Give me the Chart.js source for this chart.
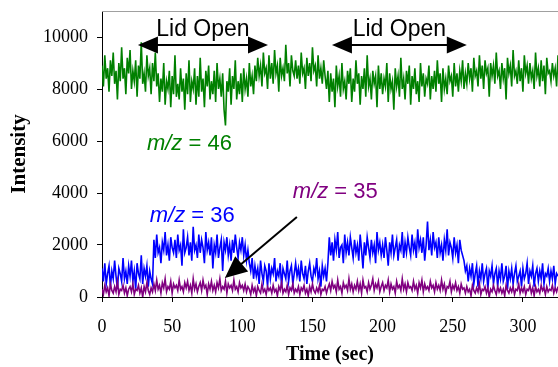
<!DOCTYPE html>
<html>
<head>
<meta charset="utf-8">
<script src="https://cdn.jsdelivr.net/npm/chart.js@4"></script>
<style>
  html, body { margin:0; padding:0; background:#fff; }
  #wrap { width:558px; height:367px; }
</style>
</head>
<body>
<div id="wrap"><canvas id="c" width="558" height="367"></canvas></div>
<script>
'use strict';

// ── readings, one per second from t = 0
const sampleStep = 1;

const m46 = [
  8900,8100,9300,8400,8800,7900,9100,8500,9400,8200,8700,7600,9000,8300,9600,8400,8800,7800,9200,8600,
  9500,8000,8700,8300,9100,7700,8900,8400,9800,8200,8600,7900,9300,8500,8800,7800,9000,8300,9400,8100,
  8600,7500,8400,7900,9000,7400,8300,8000,8700,7300,8500,7800,9300,7700,8200,7600,8800,7900,8400,7200,
  8600,7800,9100,7500,8300,8000,8800,7400,8500,7700,9200,7900,8400,7300,8700,8100,8900,7600,8300,7800,
  8700,7500,9000,8000,8400,7700,8600,7200,6600,8300,7900,8800,7400,8500,8000,9100,7600,8300,7800,8600,
  7500,8800,8000,8400,7700,9000,8100,8500,7800,8900,8300,9200,8500,8900,8100,9400,8600,8800,8000,9300,
  8400,9000,8200,9500,8600,8900,7900,9200,8500,8800,8300,9700,8600,9000,8100,9300,8700,8500,9100,8400,
  8900,8200,9400,8600,8800,8000,9200,8500,9000,8300,9600,8700,8900,8100,9300,8400,8800,8200,9100,8500,
  8000,8700,7500,8600,7900,8400,7300,8900,8100,8500,7700,9000,8000,8300,7600,8700,8200,8800,7500,8400,
  7900,9100,8200,8600,7400,8500,8000,8800,7700,9300,8100,8400,7600,8700,8200,8500,7300,8900,8000,8600,
  7800,8400,8100,9000,7500,8600,8000,8300,7200,8800,8100,8500,7700,9200,8000,8400,7600,8700,8200,8900,
  7400,8500,8000,8800,7800,8300,7500,9000,8100,8600,7700,8400,8200,8900,7600,8500,8000,8700,7900,9100,
  8200,8600,7500,8800,8000,8400,7800,8900,8300,8500,7700,9000,8100,8600,7900,8700,8300,9100,8000,8600,
  8200,9000,8400,8800,7900,9200,8500,8700,8100,9300,8400,8900,8000,9100,8600,8800,7700,9000,8500,8900,
  8200,9400,8500,8700,8000,9000,8400,8800,7600,9200,8600,8900,8100,9500,8500,8700,8200,9100,8300,8800,
  7900,9300,8600,8900,8200,9000,8400,8700,8000,9400,8500,8800,8100,9100,8300,8900,7800,9200,8600,8700,
  8300,9000,8500,8800,8100,9300
];

const m36 = [
  1100,600,1300,500,900,1200,400,1000,700,1400,800,300,1100,900,600,1500,700,1000,500,1200,
  800,1400,600,1000,300,1300,900,700,1600,500,1100,800,1200,400,1000,700,500,
  2200,1500,2400,1700,1900,1300,2100,1800,2500,1600,2000,1400,2300,1900,1700,2200,1500,2400,1800,2000,1200,2600,1700,
  1900,2300,1600,2100,1400,2700,1800,2000,1500,2400,1700,2200,1900,1300,2500,1800,2100,1600,2300,1100,
  2000,1700,2400,1500,1900,2200,1000,2100,1800,2300,1600,2000,1400,2200,1700,2400,1900,1500,2100,1800,
  2300,1600,2000,1400,1800,
  1300,1000,1500,700,1200,800,1100,500,1400,900,600,1200,1000,400,1300,
  700,1100,900,1500,600,1000,800,1300,400,1100,900,700,1400,600,1000,1200,500,900,1300,800,
  1100,600,1400,900,700,1200,500,1000,1300,800,600,1100,900,1500,700,1000,400,1200,800,1100,600,1300,
  2300,1600,2100,1400,2200,1800,2500,1500,1900,2000,1300,2400,1700,2100,1600,2300,1900,1500,
  2200,1700,2000,1400,2400,1800,1100,2100,1600,2300,1900,1500,2200,1700,2000,1300,2500,1800,2100,1600,
  2000,1500,2300,1800,1200,2100,1700,2400,1600,1900,2200,1400,2000,1800,2500,1500,2100,1700,2300,1900,
  1600,2400,1800,2100,1500,2600,1900,2200,1700,2300,1400,2000,2900,1800,2200,1600,2500,1900,2100,1500,
  2300,1700,2000,1400,2200,1800,2600,1600,2100,1900,1500,2300,1700,2000,1300,2200,1800,1600,
  1400,1000,1200,600,1100,800,1300,500,900,1200,400,1000,700,1300,600,900,1100,300,1000,800,1200,500,
  900,1100,400,1000,700,1300,600,800,1200,300,1000,700,1100,500,900,1200,600,800,1000,400,
  1100,700,900,1300,500,1000,800,1200,400,900,1100,600,1000,700,1300,500,900,800,1100,600,
  1000,700,1200,500,900,800
];

const m35 = [
  300,100,450,200,350,50,500,250,150,400,200,600,100,300,250,450,150,350,50,300,
  400,200,500,100,300,250,450,150,350,0,400,200,550,250,100,350,200,
  500,250,650,300,450,150,550,350,700,200,400,300,600,150,500,350,450,250,650,300,400,200,550,
  350,600,250,450,150,700,300,500,200,400,550,250,650,350,450,100,500,300,600,250,
  450,200,550,350,700,250,400,300,600,150,500,350,450,250,650,300,400,200,550,350,
  450,250,500,200,400,
  300,100,450,200,350,50,400,250,150,500,200,300,100,400,250,
  350,150,450,200,300,50,400,250,550,150,300,200,450,100,350,250,500,150,300,200,
  400,100,350,250,450,150,300,50,400,200,500,250,150,350,200,450,100,300,250,400,150,350,
  500,250,600,350,450,200,650,300,400,150,550,350,450,250,700,300,500,200,
  450,300,600,250,500,150,650,350,400,200,550,300,450,700,250,500,350,600,200,400,
  550,250,450,350,650,200,500,300,400,150,600,350,450,250,700,300,500,200,550,350,
  400,250,600,300,450,150,550,350,650,200,500,300,400,250,600,350,450,200,550,300,
  450,250,650,300,500,150,400,350,600,200,450,300,550,250,400,150,500,300,
  350,150,400,200,300,50,450,250,150,350,200,500,100,300,250,400,150,350,0,300,200,450,
  250,100,400,200,350,150,300,50,450,250,150,350,200,400,100,300,250,500,150,350,
  200,400,100,300,250,450,150,350,50,400,200,300,150,450,250,350,100,400,200,300,
  250,450,150,350,200,400
];

const xTicks = [0, 50, 100, 150, 200, 250, 300];
const yTicks = [0, 2000, 4000, 6000, 8000, 10000];

// annotation anchors (data units)
const lidSpans   = [[25.6, 118.3], [163.9, 260]];
const lidArrowY  = 9690;
const lidTextY   = 10020;
const mzLabels = [
  { num:'46', x:32,  y:5654, color:'#008000' },
  { num:'36', x:34,  y:2896, color:'#0000ff' },
  { num:'35', x:136, y:3808, color:'#800080' },
];
const pointer = { from:[138.9, 3077], to:[87.6, 731] };

const toPts = arr => arr.map((v, i) => ({ x: i * sampleStep, y: v }));

function head(ctx, tx, ty, fx, fy, len, half) {
  const a = Math.atan2(ty - fy, tx - fx);
  ctx.save();
  ctx.translate(tx, ty); ctx.rotate(a);
  ctx.beginPath(); ctx.moveTo(0, 0); ctx.lineTo(-len, -half); ctx.lineTo(-len, half); ctx.closePath();
  ctx.fill();
  ctx.restore();
}

const notes = {
  id: 'notes',
  afterDatasetsDraw(chart) {
    const { ctx, chartArea: ca, scales: { x, y } } = chart;
    ctx.save();
    // thin frame line on top
    ctx.strokeStyle = '#a0a0a0'; ctx.lineWidth = 1;
    ctx.beginPath(); ctx.moveTo(ca.left, ca.top + 0.5); ctx.lineTo(ca.right, ca.top + 0.5); ctx.stroke();

    ctx.fillStyle = '#000'; ctx.strokeStyle = '#000';
    lidSpans.forEach(([a, b]) => {
      const x1 = x.getPixelForValue(a), x2 = x.getPixelForValue(b), py = y.getPixelForValue(lidArrowY);
      ctx.lineWidth = 2;
      ctx.beginPath(); ctx.moveTo(x1 + 18, py); ctx.lineTo(x2 - 18, py); ctx.stroke();
      head(ctx, x1, py, x2, py, 20, 8.5);
      head(ctx, x2, py, x1, py, 20, 8.5);
      ctx.font = '23px "Liberation Sans"';
      ctx.textAlign = 'center'; ctx.textBaseline = 'alphabetic';
      ctx.fillText('Lid Open', (x1 + x2) / 2, y.getPixelForValue(lidTextY));
    });

    const fx = x.getPixelForValue(pointer.from[0]), fy = y.getPixelForValue(pointer.from[1]);
    const tx = x.getPixelForValue(pointer.to[0]),   ty = y.getPixelForValue(pointer.to[1]);
    const d = Math.hypot(tx - fx, ty - fy), k = (d - 18) / d;
    ctx.lineWidth = 2;
    ctx.beginPath(); ctx.moveTo(fx, fy); ctx.lineTo(fx + (tx - fx) * k, fy + (ty - fy) * k); ctx.stroke();
    head(ctx, tx, ty, fx, fy, 22, 10);

    mzLabels.forEach(l => {
      const px = x.getPixelForValue(l.x), py = y.getPixelForValue(l.y);
      ctx.fillStyle = l.color; ctx.textAlign = 'left'; ctx.textBaseline = 'alphabetic';
      ctx.font = 'italic 22px "Liberation Sans"';
      ctx.fillText('m/z', px, py);
      const w = ctx.measureText('m/z').width;
      ctx.font = '22px "Liberation Sans"';
      ctx.fillText(' = ' + l.num, px + w, py);
    });
    ctx.restore();
  }
};

Chart.defaults.font.family = '"Liberation Serif", "Times New Roman", serif';
Chart.defaults.color = '#000';

const line = (data, color, order) => ({
  data: toPts(data), borderColor: color, backgroundColor: color,
  borderWidth: 1.6, pointRadius: 0, tension: 0, order
});

new Chart(document.getElementById('c'), {
  type: 'line',
  data: { datasets: [ line(m46, '#008000', 2), line(m36, '#0000ff', 1), line(m35, '#800080', 0) ] },
  options: {
    responsive: false, animation: false,
    layout: { padding: { top: 11, right: 0, left: 0, bottom: 0 } },
    plugins: { legend: { display: false }, tooltip: { enabled: false } },
    scales: {
      x: {
        type: 'linear', min: 0, max: 325,
        afterBuildTicks: s => { s.ticks = xTicks.map(v => ({ value: v })); },
        afterFit: s => { s.height = 70; s.paddingLeft = 0; s.paddingRight = 0; },
        ticks: { color: '#000', font: { size: 18 }, padding: 14, maxRotation: 0, callback: v => String(v) },
        grid: { drawOnChartArea: false, drawTicks: true, tickLength: 5, color: '#000', tickColor: '#000' },
        border: { display: true, color: '#000', width: 1 },
        title: { display: true, text: 'Time (sec)', color: '#000', font: { size: 20, weight: 'bold' }, padding: { top: 0, bottom: 0 } }
      },
      y: {
        type: 'linear', min: 0, max: 11000,
        afterBuildTicks: s => { s.ticks = yTicks.map(v => ({ value: v })); },
        afterFit: s => { s.width = 102; s.paddingTop = 0; s.paddingBottom = 0; },
        ticks: { color: '#000', font: { size: 18 }, padding: 9, callback: v => String(v) },
        grid: { drawOnChartArea: false, drawTicks: true, tickLength: 5, color: '#000', tickColor: '#000' },
        border: { display: true, color: '#000', width: 1 },
        title: { display: true, text: 'Intensity', color: '#000', font: { size: 21, weight: 'bold' }, padding: { top: 7, bottom: 0 } }
      }
    }
  },
  plugins: [notes]
});
</script>
</body>
</html>
